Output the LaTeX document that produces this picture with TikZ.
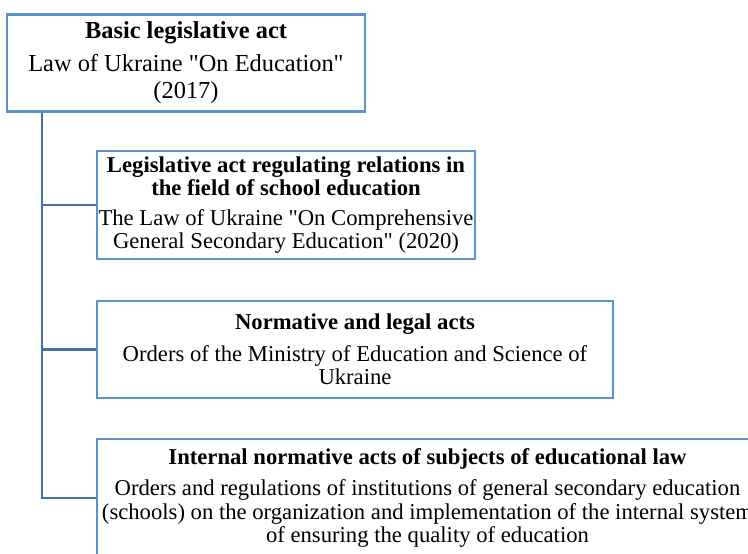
\documentclass[tikz,border=0pt]{standalone}
\usepackage{fontspec}
\setmainfont{Liberation Serif}[Ligatures=TeXOff]
\definecolor{boxblue}{RGB}{91,146,205}
\definecolor{lineblue}{RGB}{68,114,168}
\begin{document}
\begin{tikzpicture}[x=0.75pt,y=-0.75pt,
  box/.style={draw=boxblue,line width=1.6pt,fill=white,align=center,inner sep=0pt,anchor=center},
  conn/.style={draw=lineblue,line width=1.6pt},
  bigtxt/.style={font=\fontsize{18.3}{20.25}\selectfont},
  smalltxt/.style={font=\fontsize{17}{17.5}\selectfont}]
\useasboundingbox (0,0) rectangle (748,553);
\node[box,bigtxt,minimum width=268.5pt,minimum height=72.75pt] (b1) at (186,63)
  {\textbf{Basic legislative act}\\[4.5pt] Law of Ukraine "On Education"\\(2017)};
\node[box,smalltxt,minimum width=283.5pt,minimum height=81pt] (b2) at (286,205)
  {\textbf{Legislative act regulating relations in}\\\textbf{the field of school education}\\[4.5pt]
   The Law of Ukraine "On Comprehensive\\General Secondary Education" (2020)};
\node[box,smalltxt,minimum width=387pt,minimum height=72.75pt] (b3) at (355,349.5)
  {\textbf{Normative and legal acts}\\[6pt]
   Orders of the Ministry of Education and Science of\\Ukraine};
\node[box,smalltxt,minimum width=495.75pt,minimum height=88.5pt] (b4) at (427.5,498)
  {\textbf{Internal normative acts of subjects of educational law}\\[6pt]
   Orders and regulations of institutions of general secondary education\\
   (schools) on the organization and implementation of the internal system\\
   of ensuring the quality of education};
\coordinate (sp) at ([xshift=27pt]b1.south west);
\draw[conn] (sp) |- (b4.west);
\draw[conn] (b2.west -| sp) -- (b2.west);
\draw[conn] (b3.west -| sp) -- (b3.west);
\end{tikzpicture}
\end{document}
